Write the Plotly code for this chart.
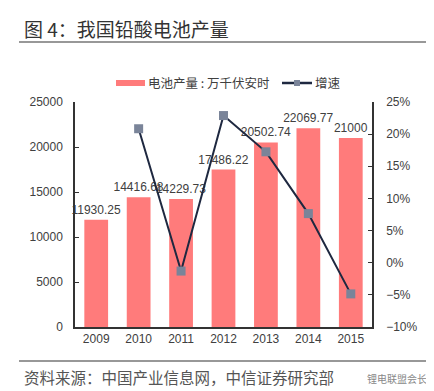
import plotly.graph_objects as go

years = ["2009", "2010", "2011", "2012", "2013", "2014", "2015"]
production = [11930.25, 14416.68, 14229.73, 17486.22, 20502.74, 22069.77, 21000]
growth = [None, 20.84, -1.30, 22.89, 17.25, 7.64, -4.85]
bar_labels = ["11930.25", "14416.68", "14229.73", "17486.22", "20502.74", "22069.77", "21000"]
bar_name = "电池产量 : 万千伏安时"
line_name = "增速"

W, H = 434, 391
L, R, T, B = 67, 364, 94, 319

BAR_COLOR = "#FF7B7B"
LINE_COLOR = "#1E2840"
MARKER_COLOR = "#7A8499"


def px(x):
    return (x - L) / (R - L)


def py(y):
    return (B - y) / (B - T)


FONT = "Liberation Sans, Arial, Noto Sans CJK SC, sans-serif"
CJK = "Noto Sans CJK SC, sans-serif"

fig = go.Figure()
fig.add_trace(go.Bar(
    x=years, y=production, name=bar_name,
    marker=dict(color=BAR_COLOR, line=dict(width=0)),
    text=bar_labels, textposition="outside", cliponaxis=False,
    constraintext="none",
    textfont=dict(size=12, color="#404040", family=FONT),
    yaxis="y",
))
fig.add_trace(go.Scatter(
    x=years, y=growth, name=line_name, mode="lines+markers",
    line=dict(color=LINE_COLOR, width=2),
    marker=dict(symbol="square", size=9, color=MARKER_COLOR,
                line=dict(width=0)),
    yaxis="y2", connectgaps=False,
))

fig.update_layout(
    width=W, height=H,
    margin=dict(l=L, r=W - R, t=T, b=H - B, pad=0, autoexpand=False),
    paper_bgcolor="white", plot_bgcolor="white",
    bargap=0.44,
    showlegend=False,
    xaxis=dict(showline=True, linecolor="#333333", linewidth=1.5,
               ticks="", showgrid=False, zeroline=False,
               tickfont=dict(size=12, color="#404040", family=FONT)),
    yaxis=dict(range=[0, 25000], dtick=5000, showline=True,
               linecolor="#333333", linewidth=1.5, ticks="inside",
               ticklen=4, tickcolor="#333333", showgrid=False,
               zeroline=False, tickformat="d", ticklabelstandoff=8,
               tickfont=dict(size=12, color="#404040", family=FONT)),
    yaxis2=dict(range=[-10, 25], dtick=5, overlaying="y", side="right",
                showline=True, linecolor="#333333", linewidth=1.5,
                ticks="inside", ticklen=4, tickcolor="#333333",
                showgrid=False, zeroline=False, ticksuffix="%",
                ticklabelstandoff=10,
                tickfont=dict(size=12, color="#404040", family=FONT)),
    shapes=[
        dict(type="line", xref="paper", yref="paper",
             x0=px(11), x1=px(424), y0=py(34), y1=py(34),
             line=dict(color="#333333", width=1.2)),
        dict(type="line", xref="paper", yref="paper",
             x0=px(11), x1=px(424), y0=py(353), y1=py(353),
             line=dict(color="#333333", width=1.2)),
        # legend swatches
        dict(type="rect", xref="paper", yref="paper",
             x0=px(108), x1=px(137), y0=py(78), y1=py(72),
             fillcolor=BAR_COLOR, line=dict(width=0)),
        dict(type="line", xref="paper", yref="paper",
             x0=px(274), x1=px(304), y0=py(75), y1=py(75),
             line=dict(color=LINE_COLOR, width=2.5)),
        dict(type="rect", xref="paper", yref="paper",
             x0=px(286), x1=px(292), y0=py(78), y1=py(72),
             fillcolor=MARKER_COLOR, line=dict(width=0)),
    ],
    annotations=[
        dict(text="图 4：我国铅酸电池产量", xref="paper", yref="paper",
             x=px(14), y=py(21), xanchor="left", yanchor="middle",
             showarrow=False,
             font=dict(size=19, color="#333333", family=CJK)),
        dict(text=bar_name, xref="paper", yref="paper",
             x=px(138), y=py(75), xanchor="left", yanchor="middle",
             showarrow=False,
             font=dict(size=12.5, color="#404040", family=CJK)),
        dict(text=line_name, xref="paper", yref="paper",
             x=px(305), y=py(75), xanchor="left", yanchor="middle",
             showarrow=False,
             font=dict(size=12.5, color="#404040", family=CJK)),
        dict(text="资料来源：中国产业信息网，中信证券研究部", xref="paper",
             yref="paper", x=px(14), y=py(369), xanchor="left",
             yanchor="middle", showarrow=False,
             font=dict(size=15.5, color="#555555", family=CJK)),
        dict(text="锂电联盟会长", xref="paper", yref="paper",
             x=px(421), y=py(370), xanchor="right", yanchor="middle",
             showarrow=False,
             font=dict(size=10, color="#888888", family=CJK)),
    ],
)

fig.write_html("out.html")
